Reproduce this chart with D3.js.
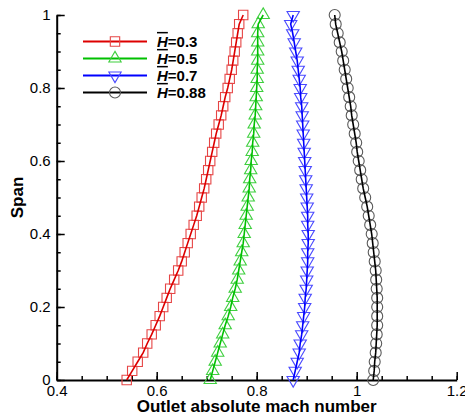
<!DOCTYPE html>
<html>
<head>
<meta charset="utf-8">
<script src="https://d3js.org/d3.v7.min.js"></script>
<style>
  body { margin:0; background:#fff; }
  svg text { font-family: Arial, "Liberation Sans", sans-serif; fill:#000; }
  .axis path, .axis line { stroke:#000; }
  .axis path { stroke-width:2; }
  .axis line { stroke-width:1.5; }
  .axis text { font-size:15px; }
</style>
</head>
<body>
<svg id="chart" width="465" height="418"></svg>
<script>
// span positions (shared by all curves)
var span = [0,0.025,0.05,0.075,0.1,0.125,0.15,0.175,0.2,0.225,0.25,0.275,0.3,0.325,0.35,0.375,0.4,
  0.425,0.45,0.475,0.5,0.525,0.55,0.575,0.6,0.625,0.65,0.675,0.7,0.725,0.75,0.775,0.8,0.825,0.85,
  0.875,0.9,0.925,0.95,0.975,1];

// outlet absolute mach number per H-bar
var mach03 = [0.540,0.551,0.562,0.573,0.581,0.590,0.598,0.606,0.613,0.620,0.627,0.635,0.643,0.650,
  0.656,0.662,0.668,0.674,0.680,0.685,0.690,0.695,0.699,0.703,0.707,0.711,0.715,0.719,0.724,0.729,
  0.733,0.737,0.742,0.746,0.750,0.753,0.756,0.759,0.762,0.765,0.773];
var mach05 = [0.707,0.712,0.717,0.722,0.727,0.732,0.737,0.743,0.748,0.752,0.757,0.761,0.764,0.767,
  0.770,0.773,0.775,0.777,0.779,0.781,0.783,0.785,0.786,0.788,0.789,0.791,0.792,0.794,0.795,0.797,
  0.798,0.799,0.800,0.801,0.801,0.802,0.802,0.802,0.802,0.803,0.813];
var mach07 = [0.873,0.877,0.881,0.885,0.887,0.890,0.892,0.894,0.896,0.897,0.899,0.900,0.901,0.902,
  0.902,0.903,0.903,0.902,0.902,0.901,0.900,0.899,0.898,0.897,0.896,0.895,0.894,0.893,0.892,0.891,
  0.890,0.888,0.887,0.885,0.883,0.881,0.878,0.875,0.872,0.868,0.873];
var mach088 = [1.033,1.035,1.036,1.038,1.039,1.040,1.041,1.041,1.041,1.041,1.040,1.039,1.038,1.036,
  1.034,1.032,1.030,1.027,1.024,1.021,1.017,1.013,1.010,1.007,1.004,1.001,0.999,0.996,0.993,0.990,
  0.988,0.985,0.982,0.979,0.976,0.973,0.970,0.966,0.962,0.958,0.956];

var labels = ["0.3","0.5","0.7","0.88"];
var xTicks = [0.4,0.6,0.8,1,1.2];
var yTicks = [0,0.2,0.4,0.6,0.8,1];

var series = [
  {label:labels[0], vals:mach03, line:"#dd0000", mark:"#e64545", sym:d3.symbolSquare, size:88, rot:0},
  {label:labels[1], vals:mach05, line:"#00c000", mark:"#3fcf3f", sym:d3.symbolTriangle, size:66, rot:0},
  {label:labels[2], vals:mach07, line:"#0000ff", mark:"#4a4aff", sym:d3.symbolTriangle, size:66, rot:180},
  {label:labels[3], vals:mach088, line:"#000000", mark:"#5a5a5a", sym:d3.symbolCircle, size:95, rot:0}
];

var margin = {top:15, left:56.7, right:8.3, bottom:38};
var width = 465 - margin.left - margin.right,
    height = 418 - margin.top - margin.bottom;

var svg = d3.select("#chart");
var g = svg.append("g").attr("transform","translate("+margin.left+","+margin.top+")");

var x = d3.scaleLinear().domain([0.4,1.2]).range([0,width]);
var y = d3.scaleLinear().domain([0,1]).range([height,0]);

// minor ticks
var minorX = d3.range(0.4,1.2001,0.05), minorY = d3.range(0,1.0001,0.05);
g.append("g").attr("class","axis").attr("transform","translate(0,"+height+")")
  .call(d3.axisBottom(x).tickValues(minorX).tickSize(-4).tickFormat(""))
  .select(".domain").remove();
g.append("g").attr("class","axis")
  .call(d3.axisLeft(y).tickValues(minorY).tickSize(-4).tickFormat(""))
  .select(".domain").remove();

// major ticks + labels
g.append("g").attr("class","axis").attr("transform","translate(0,"+height+")")
  .call(d3.axisBottom(x).tickValues(xTicks).tickSize(-8).tickSizeOuter(0).tickPadding(5).tickFormat(d3.format("")));
g.append("g").attr("class","axis")
  .call(d3.axisLeft(y).tickValues(yTicks).tickSize(-8).tickSizeOuter(0).tickPadding(6).tickFormat(d3.format("")));
g.selectAll(".axis text").style("font-size","15px");

// curves
var line = d3.line().x(function(d){return x(d[0]);}).y(function(d){return y(d[1]);});
series.forEach(function(s){
  var pts = s.vals.map(function(v,i){return [v, span[i]];});
  var sym = d3.symbol().type(s.sym).size(s.size);
  g.append("g").selectAll("path").data(pts).enter().append("path")
    .attr("d", sym)
    .attr("transform", function(d){return "translate("+x(d[0])+","+y(d[1])+") rotate("+s.rot+")";})
    .attr("fill","none").attr("stroke", s.mark).attr("stroke-width",1.1);
  g.append("path").datum(pts).attr("d", line)
    .attr("fill","none").attr("stroke", s.line).attr("stroke-width",1.6);
});

// legend
var leg = svg.append("g").attr("transform","translate(83,41.5)");
series.forEach(function(s,i){
  var row = leg.append("g").attr("transform","translate(0,"+(i*17)+")");
  row.append("line").attr("x1",0).attr("x2",64).attr("y1",0).attr("y2",0)
    .attr("stroke", s.line).attr("stroke-width",2.2);
  row.append("path").attr("d", d3.symbol().type(s.sym).size(s.size))
    .attr("transform","translate(32,0) rotate("+s.rot+")")
    .attr("fill","none").attr("stroke", s.mark).attr("stroke-width",1.1);
  var t = row.append("text").attr("x",74).attr("dy","0.36em")
    .style("font-size","15px").style("font-weight","bold");
  t.append("tspan").style("font-style","italic").style("text-decoration","overline").text("H");
  t.append("tspan").text("=" + s.label);
});

// axis titles
svg.append("text").attr("x", margin.left + width/2).attr("y", 412)
  .attr("text-anchor","middle").style("font-size","17px").style("font-weight","bold")
  .text("Outlet absolute mach number");
svg.append("text").attr("transform","translate(23,"+(margin.top+height/2)+") rotate(-90)")
  .attr("text-anchor","middle").style("font-size","17px").style("font-weight","bold")
  .text("Span");
</script>
</body>
</html>
